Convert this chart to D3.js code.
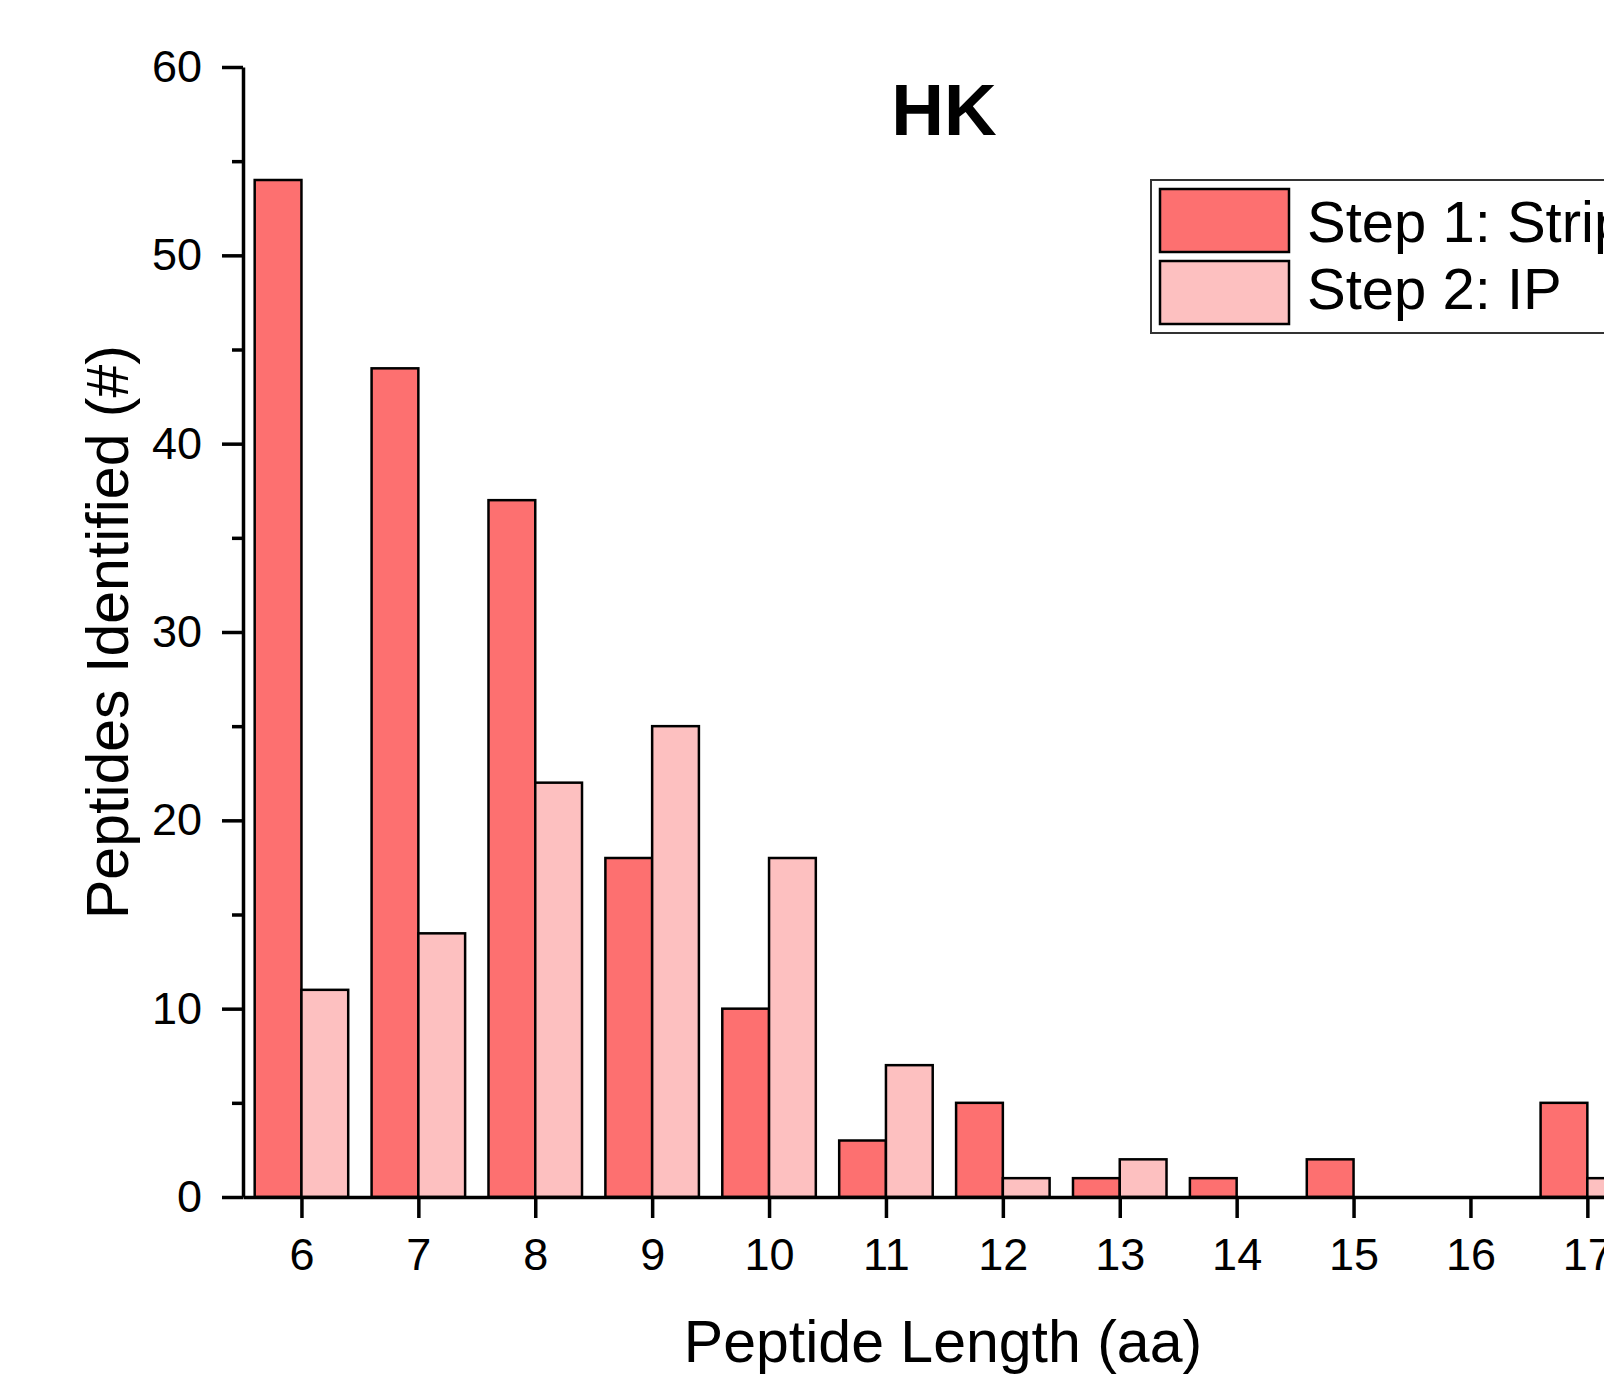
<!DOCTYPE html>
<html>
<head>
<meta charset="utf-8">
<script src="https://cdn.jsdelivr.net/npm/d3@7"></script>
<style>
  body { margin: 0; background: #fff; }
  svg { display: block; font-family: "Liberation Sans", Arial, sans-serif; }
</style>
</head>
<body>
<div id="main"></div>
<script>
const lengths = [6, 7, 8, 9, 10, 11, 12, 13, 14, 15, 16, 17];
const step1 = [54, 44, 37, 18, 10, 3, 5, 1, 1, 2, 0, 5];
const step2 = [11, 14, 22, 25, 18, 7, 1, 2, 0, 0, 0, 1];
const seriesNames = ["Step 1: Stripping", "Step 2: IP"];
const yTicks = [0, 10, 20, 30, 40, 50, 60];
const yMinorTicks = [5, 15, 25, 35, 45, 55];

const width = 1604;
const height = 1381;
const colors = ["#fd7070", "#fdc0c0"];

const svg = d3.select("#main").append("svg").attr("width", width).attr("height", height);

const x = d3.scaleLinear().domain([5.5, 18.5]).range([243, 243 + 13 * 116.9]);
const y = d3.scaleLinear().domain([0, 60]).range([1197, 67]);
const barW = 0.4;

// bars
const groups = [step1, step2];
groups.forEach((vals, si) => {
  svg
    .append("g")
    .selectAll("rect")
    .data(lengths.map((l, i) => ({ l: l, v: vals[i] })).filter((d) => d.v > 0))
    .enter()
    .append("rect")
    .attr("x", (d) => x(d.l - barW + si * barW))
    .attr("y", (d) => y(d.v))
    .attr("width", (d) => x(d.l + barW) - x(d.l))
    .attr("height", (d) => y(0) - y(d.v))
    .attr("fill", colors[si])
    .attr("stroke", "#000")
    .attr("stroke-width", 2.5);
});

// y axis
svg
  .append("g")
  .attr("transform", `translate(${x(5.5)},0)`)
  .call(d3.axisLeft(y).tickValues(yTicks).tickSize(21).tickSizeOuter(0).tickPadding(20));
svg
  .append("g")
  .attr("transform", `translate(${x(5.5)},0)`)
  .call(d3.axisLeft(y).tickValues(yMinorTicks).tickSize(11).tickSizeOuter(0).tickFormat(""))
  .select(".domain")
  .remove();

// x axis
svg
  .append("g")
  .attr("transform", `translate(0,${y(0)})`)
  .call(d3.axisBottom(x).tickValues(lengths).tickSize(21).tickSizeOuter(0).tickPadding(20));

svg.selectAll(".domain").attr("stroke", "#000").attr("stroke-width", 3.5);
svg.selectAll(".tick line").attr("stroke", "#000").attr("stroke-width", 3.5);
svg
  .selectAll(".tick text")
  .attr("fill", "#000")
  .style("font-family", '"Liberation Sans", Arial, sans-serif')
  .style("font-size", "45px");

// titles
svg
  .append("text")
  .attr("x", 944)
  .attr("y", 135)
  .attr("text-anchor", "middle")
  .style("font-size", "73px")
  .style("font-weight", "bold")
  .text("HK");

svg
  .append("text")
  .attr("x", 943)
  .attr("y", 1362)
  .attr("text-anchor", "middle")
  .style("font-size", "59px")
  .text("Peptide Length (aa)");

svg
  .append("text")
  .attr("transform", "translate(128,632) rotate(-90)")
  .attr("text-anchor", "middle")
  .style("font-size", "59px")
  .text("Peptides Identified (#)");

// legend
const legend = svg.append("g");
legend
  .append("rect")
  .attr("x", 1151)
  .attr("y", 180)
  .attr("width", 600)
  .attr("height", 153)
  .attr("fill", "#fff")
  .attr("stroke", "#333")
  .attr("stroke-width", 2);

seriesNames.forEach((name, i) => {
  legend
    .append("rect")
    .attr("x", 1160)
    .attr("y", 189 + i * 72)
    .attr("width", 129)
    .attr("height", 63)
    .attr("fill", colors[i])
    .attr("stroke", "#000")
    .attr("stroke-width", 2.5);
  legend
    .append("text")
    .attr("x", 1307)
    .attr("y", 242 + i * 67)
    .style("font-size", "58px")
    .text(name);
});
</script>
</body>
</html>
